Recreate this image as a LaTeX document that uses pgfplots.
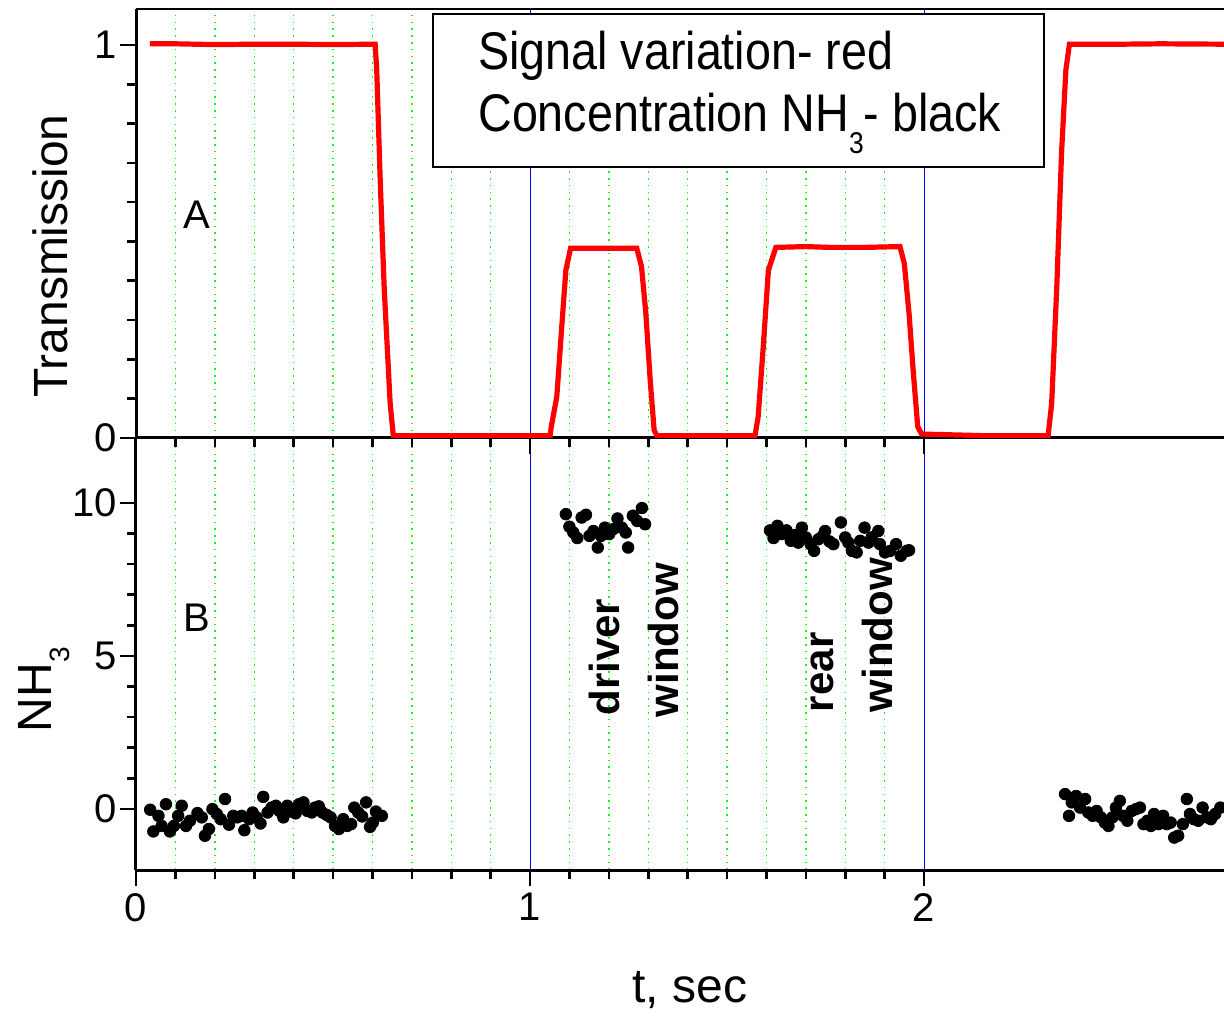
\documentclass[border=0pt]{standalone}
\usepackage{fontspec}
\setmainfont{Liberation Sans}
\usepackage{graphicx}
\usepackage{pgfplots}
\pgfplotsset{compat=1.18}

\definecolor{gridgreen}{RGB}{20,245,20}

\pgfplotsset{
  panel/.style={
    scale only axis, width=544pt,
    xmin=0, xmax=2.7614,
    axis x line*=bottom, axis y line*=left,
    axis line style={line width=1.5pt},
    tick align=outside, xtick pos=left, ytick pos=left,
    major tick length=8pt, minor tick length=4.5pt,
    every tick/.style={black, line width=1.3pt},
    xtick={0,1,2}, minor x tick num=9,
    xmajorgrids=true, xminorgrids=true,
    major grid style={blue, line width=0.5pt},
    minor grid style={gridgreen, line width=0.7pt, dash pattern=on 0.8pt off 2.6pt},
    /pgf/number format/assume math mode=true,
    tick label style={font=\fontsize{20}{24}\selectfont},
    yticklabel style={xshift=2pt},
    label style={font=\fontsize{24}{28}\selectfont},
  },
}

\begin{document}
\begin{tikzpicture}
\useasboundingbox (-68pt,-73pt) rectangle (544pt,435pt);

% lower panel: NH3
\begin{axis}[panel, at={(0,0)}, anchor=south west, height=216pt,
  ymin=-2, ymax=12.12,
  ytick={0,5,10}, minor y tick num=4,
  xlabel={t, sec}, ylabel={NH\raisebox{-9pt}{\fontsize{14}{14}\selectfont 3}},
  xlabel style={at={(axis description cs:0.509,-0.278)}, anchor=center},
  ylabel style={at={(axis description cs:-0.084,0.417)}, anchor=center},
]
\addplot[only marks, mark=*, mark size=2.9pt, black] coordinates {
 (0.036,-0.03) (0.044,-0.74) (0.057,-0.23) (0.065,-0.56) (0.076,0.15)
 (0.086,-0.74) (0.096,-0.56) (0.107,-0.23) (0.116,0.10) (0.127,-0.56)
 (0.137,-0.39) (0.156,-0.14) (0.167,-0.28) (0.175,-0.88) (0.185,-0.66)
 (0.194,-0.01) (0.205,-0.17) (0.215,-0.34) (0.226,0.32) (0.236,-0.52)
 (0.247,-0.23) (0.257,-0.28) (0.268,-0.23) (0.275,-0.70) (0.287,-0.34)
 (0.296,-0.12) (0.306,-0.28) (0.316,-0.48) (0.323,0.39) (0.334,-0.12)
 (0.344,0.04) (0.355,0.10) (0.364,-0.07) (0.374,-0.28) (0.384,0.10)
 (0.395,-0.09) (0.405,-0.15) (0.414,0.15) (0.425,0.21) (0.435,-0.07)
 (0.446,-0.12) (0.454,0.04) (0.464,0.08) (0.473,-0.12) (0.484,-0.20)
 (0.494,-0.28) (0.505,-0.56) (0.515,-0.66) (0.526,-0.34) (0.536,-0.56)
 (0.546,-0.50) (0.554,0.04) (0.564,-0.12) (0.574,-0.25) (0.584,0.21)
 (0.594,-0.59) (0.601,-0.45) (0.609,-0.09) (0.624,-0.23)
 (1.091,9.63) (1.100,9.22) (1.110,9.03) (1.120,8.85) (1.131,9.52)
 (1.142,9.61) (1.151,8.92) (1.161,9.08) (1.172,8.54) (1.180,8.92)
 (1.190,9.19) (1.201,8.98) (1.211,9.14) (1.222,9.49) (1.233,9.19)
 (1.243,9.03) (1.249,8.54) (1.261,9.58) (1.272,9.41) (1.284,9.83)
 (1.292,9.30)
 (1.609,9.10) (1.618,8.85) (1.628,9.25) (1.639,8.98) (1.651,9.10)
 (1.662,8.76) (1.674,8.95) (1.681,8.70) (1.690,9.19) (1.700,8.87)
 (1.712,8.65) (1.721,8.43) (1.732,8.81) (1.743,8.92) (1.749,9.08)
 (1.760,8.74) (1.770,8.65) (1.789,9.36) (1.800,8.87) (1.808,8.70)
 (1.817,8.43) (1.829,8.38) (1.838,8.76) (1.849,9.19) (1.859,8.70)
 (1.867,8.87) (1.884,9.08) (1.888,8.65) (1.901,8.38) (1.914,8.43)
 (1.929,8.65) (1.941,8.27) (1.956,8.43) (1.962,8.45)
 (2.358,0.48) (2.368,-0.23) (2.375,0.21) (2.386,0.42) (2.396,0.04)
 (2.409,0.32) (2.417,-0.12) (2.428,-0.23) (2.438,-0.07) (2.449,-0.28)
 (2.459,-0.45) (2.468,-0.56) (2.478,-0.28) (2.487,0.04) (2.497,0.26)
 (2.505,-0.23) (2.516,-0.39) (2.527,-0.07) (2.538,-0.01) (2.548,0.04)
 (2.557,-0.50) (2.567,-0.39) (2.576,-0.56) (2.584,-0.17) (2.595,-0.50)
 (2.607,-0.23) (2.616,-0.50) (2.626,-0.45) (2.635,-0.94) (2.645,-0.88)
 (2.657,-0.50) (2.667,0.32) (2.675,-0.17) (2.685,-0.34) (2.696,-0.39)
 (2.707,0.04) (2.718,-0.28) (2.728,-0.34) (2.739,-0.17) (2.752,0.04)
};
\node[font=\fontsize{20}{24}\selectfont] at (axis description cs:0.056,0.583) {B};
\begin{scope}[every node/.style={rotate=90, anchor=base west, inner sep=0pt,
    font=\fontsize{21}{24}\selectfont\bfseries}]
\node at (axis cs:1.228,3.04) {driver};
\node at (axis cs:1.376,2.98) {window};
\node at (axis cs:1.769,3.15) {rear};
\node at (axis cs:1.921,3.15) {window};
\end{scope}
\end{axis}

% upper panel: transmission
\begin{axis}[panel, at={(0,216pt)}, anchor=south west, height=214.5pt,
  ymin=0, ymax=1.0916,
  ytick={0,1}, minor y tick num=9,
  xticklabels={},
  ylabel={Transmission},
  ylabel style={at={(axis description cs:-0.079,0.424)}, anchor=center},
]
\addplot[red, line width=2.6pt] coordinates {
 (0.035,1.003) (0.10,1.003) (0.20,1.001) (0.30,1.002) (0.40,1.002)
 (0.50,1.001) (0.607,1.002) (0.611,0.936) (0.620,0.65) (0.630,0.38)
 (0.645,0.089) (0.653,0.006) (0.80,0.006) (1.051,0.006)
 (1.054,0.029) (1.068,0.105) (1.080,0.275) (1.091,0.427) (1.103,0.483)
 (1.200,0.483) (1.271,0.483) (1.283,0.436) (1.294,0.317) (1.305,0.148)
 (1.315,0.020) (1.322,0.006) (1.450,0.006) (1.571,0.006)
 (1.579,0.054) (1.592,0.232) (1.605,0.427) (1.624,0.485) (1.700,0.487)
 (1.760,0.485) (1.850,0.485) (1.939,0.487) (1.950,0.444) (1.962,0.317)
 (1.973,0.165) (1.984,0.029) (1.994,0.010) (2.150,0.006) (2.315,0.006)
 (2.324,0.088) (2.337,0.385) (2.349,0.724) (2.360,0.936) (2.369,1.002)
 (2.500,1.002) (2.600,1.003) (2.7614,1.002)
};
\draw[line width=0.6pt] (rel axis cs:0,1) -- (rel axis cs:1,1);
\node[font=\fontsize{20}{24}\selectfont] at (axis description cs:0.056,0.52) {A};
\node[draw, line width=0.9pt, fill=white, inner sep=0pt,
  minimum width=305.5pt, minimum height=76.5pt, anchor=north west]
  at (axis description cs:0.272,0.9907) {};
\node[anchor=base west, inner sep=0pt] at (axis description cs:0.3143,0.8578)
  {\scalebox{0.88}[1]{\fontsize{26.5}{30}\selectfont Signal variation- red}};
\node[anchor=base west, inner sep=0pt] at (axis description cs:0.3143,0.7133)
  {\scalebox{0.88}[1]{\fontsize{26.5}{30}\selectfont Concentration NH\raisebox{-11pt}{\fontsize{15}{15}\selectfont 3}- black}};
\end{axis}
\end{tikzpicture}
\end{document}
